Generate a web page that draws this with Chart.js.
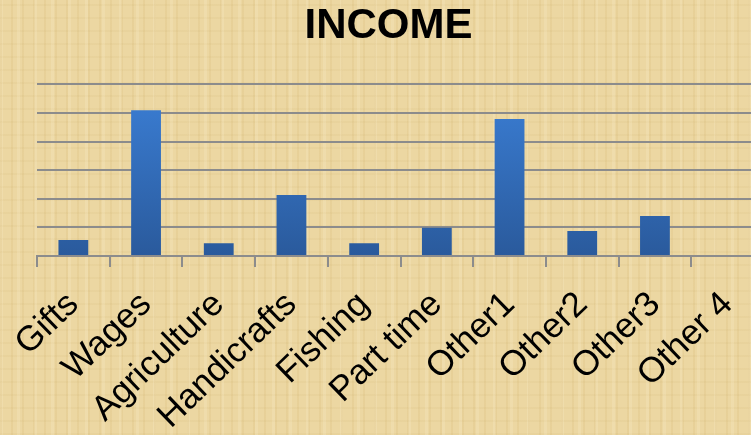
<!DOCTYPE html>
<html>
<head>
<meta charset="utf-8">
<script src="https://cdn.jsdelivr.net/npm/chart.js@4"></script>
<style>
  html, body { margin: 0; padding: 0; width: 751px; height: 435px; overflow: hidden; }
  body {
    background-color: #ecd7a2;
    background-image:
      repeating-linear-gradient(90deg, rgba(190,150,70,0.10) 0 2px, transparent 2px 11px),
      repeating-linear-gradient(90deg, rgba(255,245,215,0.18) 0 3px, transparent 3px 17px),
      repeating-linear-gradient(0deg, rgba(190,150,70,0.07) 0 2px, transparent 2px 13px);
  }
  #wrap { position: absolute; left: 0; top: 0; width: 776px; height: 435px; }
</style>
</head>
<body>
<div id="wrap"><canvas id="incomeChart"></canvas></div>
<script>
// Income categories and bar heights (axis runs 0-600, ticks hidden)
const categories = ["Gifts", "Wages", "Agriculture", "Handicrafts", "Fishing",
                    "Part time", "Other1", "Other2", "Other3", "Other 4"];
const incomeValues = [56, 510, 45, 213, 45, 99, 479, 87, 140, 0];
const yMax = 600;
const yStep = 100;

const gridColor = "#8c8c8c";

function barGradient(context) {
  const chart = context.chart;
  const area = chart.chartArea;
  if (!area) return "#3570c0";
  const g = chart.ctx.createLinearGradient(0, area.top, 0, area.bottom);
  g.addColorStop(0, "#3b7fd6");
  g.addColorStop(1, "#2a5a9c");
  return g;
}

const ctx = document.getElementById("incomeChart").getContext("2d");
new Chart(ctx, {
  type: "bar",
  data: {
    labels: categories,
    datasets: [{
      label: "Income",
      data: incomeValues,
      backgroundColor: barGradient,
      barPercentage: 0.41,
      categoryPercentage: 1.0
    }]
  },
  options: {
    responsive: true,
    maintainAspectRatio: false,
    animation: false,
    layout: { padding: { left: 13, right: 12, top: 0, bottom: 0 } },
    plugins: {
      legend: { display: false },
      tooltip: { enabled: false },
      title: {
        display: true,
        text: "INCOME",
        color: "#000",
        font: { family: "Liberation Sans, Arial, sans-serif", size: 42, weight: "bold" },
        padding: { top: 1, bottom: 33 }
      }
    },
    scales: {
      x: {
        grid: {
          display: true,
          drawOnChartArea: false,
          drawTicks: true,
          tickLength: 11,
          color: gridColor,
          lineWidth: 2
        },
        border: { display: true, color: gridColor, width: 2 },
        ticks: {
          autoSkip: false,
          minRotation: 44,
          maxRotation: 44,
          color: "#000",
          padding: 17,
          font: { family: "Liberation Sans, Arial, sans-serif", size: 35 }
        },
        afterFit: (scale) => { scale.height = 179; }
      },
      y: {
        min: 0,
        max: yMax,
        ticks: { display: false, stepSize: yStep },
        grid: { color: gridColor, lineWidth: 2, drawTicks: false },
        border: { display: false },
        afterFit: (scale) => { scale.width = 24; }
      }
    }
  }
});
</script>
</body>
</html>
